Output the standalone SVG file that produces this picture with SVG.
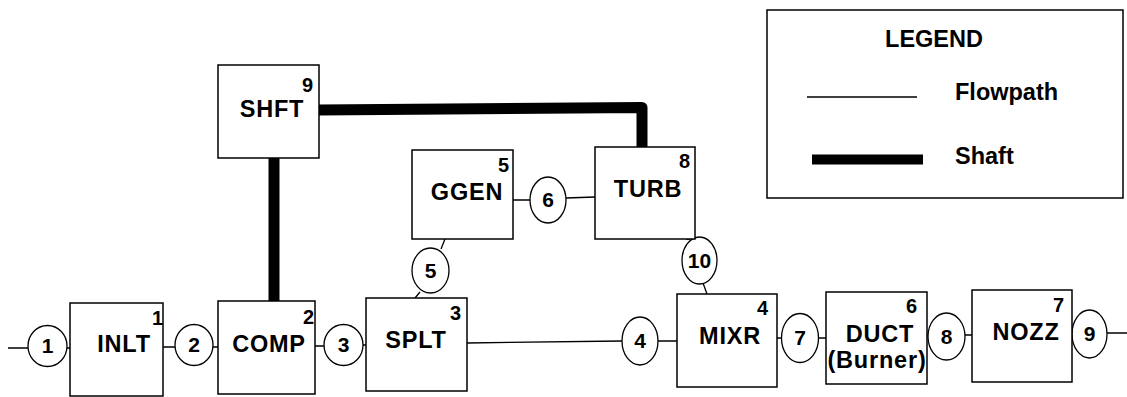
<svg xmlns="http://www.w3.org/2000/svg" width="1127" height="397" viewBox="0 0 1127 397">
<style>
text{font-family:"Liberation Sans",Arial,Helvetica,sans-serif;font-weight:bold;fill:#000}
.box{fill:#fff;stroke:#000;stroke-width:1.5}
.st{fill:#fff;stroke:#000;stroke-width:1.3}
.flow{fill:none;stroke:#000;stroke-width:1.3}
.shaft{fill:none;stroke:#000;stroke-width:11;stroke-linejoin:round}
.lbl{font-size:23.5px;text-anchor:middle;letter-spacing:0.8px}
.num{font-size:20px;text-anchor:end}
.sn{font-size:21px;text-anchor:middle}
.leg{font-size:23.5px}
</style>
<rect width="1127" height="397" fill="#fff"/>
<g id="connectors">
<path class="shaft" d="M319,110 L642,107.5 L642,147"/>
<path class="shaft" d="M274,158 L274,301"/>
<path class="flow" d="M8,348 L28,348 M67,348 L70,348 M163,347 L175,347 M213,347 L218,347 M315,346 L324,346 M363,345 L366,345 M467,343 L622,341 M658,341 L677,341 M777,338 L782,338 M819,338 L826,338 M927,336 L928,336 M965,335 L972,335 M1107,333 L1127,333 M513,200 L530,200 M566,198 L595,197 M445,239 L441,249 M420,292 L415,298 M686,239 L690,239 M703,283 L707,294"/>
</g>
<g id="s1"><ellipse class="st" cx="47.5" cy="346" rx="19.5" ry="20.5"/><text class="sn" x="47.5" y="353">1</text></g>
<g id="s2"><ellipse class="st" cx="194" cy="345" rx="19" ry="20.5"/><text class="sn" x="194" y="352">2</text></g>
<g id="s3"><ellipse class="st" cx="343.5" cy="345" rx="19.5" ry="20.5"/><text class="sn" x="343.5" y="352">3</text></g>
<g id="s4"><ellipse class="st" cx="640" cy="341" rx="18" ry="24"/><text class="sn" x="640" y="348">4</text></g>
<g id="s5"><ellipse class="st" cx="430.5" cy="270.5" rx="18.5" ry="22.5"/><text class="sn" x="430.5" y="277.5">5</text></g>
<g id="s6"><ellipse class="st" cx="548" cy="200" rx="18" ry="23"/><text class="sn" x="548" y="207">6</text></g>
<g id="s7"><ellipse class="st" cx="800" cy="338" rx="18.5" ry="24.5"/><text class="sn" x="800" y="345">7</text></g>
<g id="s8"><ellipse class="st" cx="946.5" cy="336.5" rx="18.5" ry="23.5"/><text class="sn" x="946.5" y="343.5">8</text></g>
<g id="s9"><ellipse class="st" cx="1089.5" cy="334" rx="17.5" ry="24"/><text class="sn" x="1089.5" y="341">9</text></g>
<g id="s10"><ellipse class="st" cx="699.5" cy="260.5" rx="17.5" ry="23.5"/><text class="sn" x="699.5" y="267.5">10</text></g>
<g id="inlt"><rect class="box" x="70" y="303" width="93" height="93"/><text class="lbl" x="124" y="352">INLT</text><text class="num" x="163" y="325">1</text></g>
<g id="comp"><rect class="box" x="218" y="301" width="97" height="93"/><text class="lbl" x="269" y="352">COMP</text><text class="num" x="314" y="324">2</text></g>
<g id="splt"><rect class="box" x="366" y="298" width="101" height="93"/><text class="lbl" x="416" y="348">SPLT</text><text class="num" x="461" y="320">3</text></g>
<g id="mixr"><rect class="box" x="677" y="294" width="100" height="93"/><text class="lbl" x="730" y="344">MIXR</text><text class="num" x="768" y="315">4</text></g>
<g id="ggen"><rect class="box" x="412" y="150" width="101" height="89"/><text class="lbl" x="467" y="200">GGEN</text><text class="num" x="509" y="172">5</text></g>
<g id="duct"><rect class="box" x="826" y="292" width="101" height="92"/><text class="lbl" x="880" y="342">DUCT</text><text class="lbl" x="877" y="368">(Burner)</text><text class="num" x="917" y="313">6</text></g>
<g id="nozz"><rect class="box" x="972" y="290" width="100" height="92"/><text class="lbl" x="1026" y="340">NOZZ</text><text class="num" x="1064" y="312">7</text></g>
<g id="turb"><rect class="box" x="595" y="147" width="100" height="92"/><text class="lbl" x="648" y="197">TURB</text><text class="num" x="690" y="168">8</text></g>
<g id="shft"><rect class="box" x="218" y="65" width="101" height="93"/><text class="lbl" x="272" y="117">SHFT</text><text class="num" x="313" y="92">9</text></g>
<g id="legend">
<rect class="box" x="767" y="10" width="356" height="188"/>
<text class="leg" x="934" y="47" text-anchor="middle">LEGEND</text>
<line x1="807" y1="97" x2="917" y2="97" stroke="#000" stroke-width="1.3"/>
<text class="leg" x="955" y="100">Flowpath</text>
<line x1="812" y1="159.5" x2="923" y2="159.5" stroke="#000" stroke-width="10"/>
<text class="leg" x="955" y="164">Shaft</text>
</g>
</svg>
